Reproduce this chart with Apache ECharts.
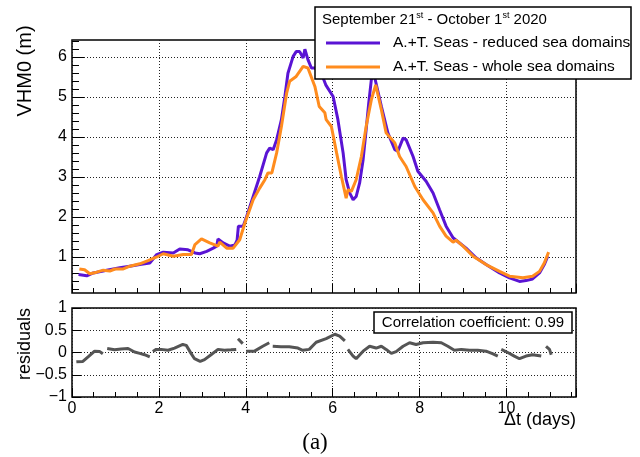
<!DOCTYPE html>
<html>
<head>
<meta charset="utf-8">
<script src="https://cdn.jsdelivr.net/npm/echarts@6/dist/echarts.min.js"></script>
<style>html,body{margin:0;padding:0;background:#fff}#c{width:640px;height:457px}</style>
</head>
<body>
<div id="c"></div>
<script>
// ---- data (days, metres) ----
const tReduced = [0.15,0.34,0.49,0.8,0.95,1.1,1.33,1.56,1.79,1.95,2.1,2.33,2.48,2.67,2.83,2.94,3.1,3.25,3.33,3.36,3.48,3.63,3.75,3.8,3.83,3.94,4.02,4.17,4.32,4.48,4.55,4.63,4.71,4.82,4.9,4.97,5.09,5.16,5.24,5.32,5.36,5.43,5.51,5.59,5.7,5.78,5.84,6.01,6.12,6.24,6.31,6.39,6.47,6.54,6.62,6.7,6.77,6.83,6.89,6.94,6.97,7.12,7.27,7.43,7.5,7.62,7.69,7.85,7.96,8.15,8.31,8.46,8.61,8.77,8.92,9.07,9.3,9.53,9.84,10.07,10.3,10.45,10.6,10.76,10.87,10.95];
const vReduced = [0.56,0.53,0.6,0.67,0.7,0.73,0.77,0.81,0.85,1.06,1.12,1.1,1.2,1.18,1.1,1.08,1.14,1.22,1.27,1.45,1.35,1.27,1.3,1.42,1.77,1.77,2.01,2.51,3.01,3.6,3.72,3.68,3.93,4.43,5.01,5.59,6.01,6.13,6.13,5.97,6.19,5.93,5.72,5.72,5.6,5.47,5.3,5.01,4.43,3.6,2.93,2.6,2.43,2.51,2.85,3.43,4.18,4.85,5.43,5.65,5.47,4.76,4.1,3.68,3.64,3.97,3.93,3.51,3.14,2.89,2.6,2.18,1.77,1.48,1.35,1.22,0.98,0.81,0.6,0.48,0.39,0.41,0.45,0.6,0.81,1.02];
const tWhole = [0.17,0.29,0.41,0.57,0.72,0.87,0.99,1.18,1.33,1.56,1.75,1.95,2.1,2.33,2.56,2.75,2.83,2.98,3.17,3.36,3.4,3.56,3.71,3.86,3.98,4.17,4.32,4.44,4.51,4.6,4.71,4.82,4.94,5.01,5.16,5.32,5.43,5.59,5.69,5.82,5.85,5.97,6.09,6.2,6.31,6.35,6.43,6.54,6.66,6.77,6.89,6.99,7.12,7.23,7.43,7.54,7.69,7.89,8.08,8.31,8.46,8.61,8.77,8.84,9.0,9.23,9.53,9.84,10.07,10.38,10.6,10.76,10.87,10.97];
const vWhole = [0.7,0.68,0.58,0.62,0.67,0.65,0.7,0.7,0.77,0.83,0.91,1.0,1.08,1.02,1.06,1.06,1.31,1.45,1.35,1.27,1.37,1.22,1.22,1.43,1.85,2.43,2.72,2.93,3.1,3.1,3.6,4.26,5.09,5.39,5.51,5.76,5.72,5.26,4.76,4.6,4.43,4.26,3.6,3.01,2.47,2.68,2.64,2.93,3.51,4.26,4.93,5.3,4.68,4.1,3.85,3.51,3.26,2.76,2.43,2.1,1.77,1.52,1.37,1.42,1.27,1.02,0.81,0.64,0.52,0.48,0.52,0.64,0.85,1.12];
// residuals; null marks a gap in the record
const tResid = [0.1,0.25,0.37,0.52,0.64,0.71,0.76,0.81,0.98,1.13,1.29,1.44,1.56,1.67,1.79,1.82,1.86,1.94,2.05,2.21,2.36,2.55,2.63,2.74,2.82,2.95,3.05,3.2,3.36,3.51,3.66,3.78,3.8,3.82,3.93,3.97,4.01,4.2,4.39,4.54,4.58,4.62,4.81,5.0,5.2,5.31,5.46,5.62,5.85,6.05,6.16,6.28,6.31,6.35,6.47,6.54,6.7,6.85,7.0,7.12,7.23,7.35,7.46,7.62,7.77,7.92,8.08,8.31,8.5,8.65,8.8,8.96,9.15,9.34,9.53,9.69,9.8,9.84,9.88,10.03,10.18,10.3,10.45,10.6,10.8,10.85,10.91,10.99,11.03];
const vResid = [-0.21,-0.2,-0.1,0.03,0.02,-0.03,null,0.09,0.06,0.08,0.09,0.01,-0.02,-0.05,-0.1,null,0.02,0.07,0.07,0.05,0.1,0.18,0.16,-0.02,-0.14,-0.2,-0.16,-0.05,0.07,0.05,0.06,0.07,null,0.31,0.2,null,0.03,0.03,0.14,0.22,null,0.14,0.13,0.13,0.1,0.05,0.07,0.23,0.31,0.41,0.37,0.26,null,0.07,-0.08,-0.14,0.03,0.14,0.1,0.14,0.07,-0.02,0.02,0.14,0.22,0.18,0.22,0.23,0.22,0.14,0.05,0.07,0.05,0.05,0.03,-0.03,-0.08,null,0.07,0.0,-0.08,-0.14,-0.08,-0.05,-0.08,null,0.14,0.07,-0.05];
const seriesNames = ['A.+T. Seas - reduced sea domains', 'A.+T. Seas - whole sea domains'];
const xTickLabels = [0, 2, 4, 6, 8, 10];
const yTopTickLabels = [1, 2, 3, 4, 5, 6];
const yResTickLabels = [-1, -0.5, 0, 0.5, 1];
const corrText = 'Correlation coefficient: 0.99';

// ---- layout ----
const FONT = "'Liberation Sans', Arial, Helvetica, sans-serif";
const L = 72, W = 504;
const xMax = 11.6;
const topT = 40, topH = 253, yMin = 0.1, yMax = 6.42;
const botT = 308, botH = 89;
const pyTop = v => topT + (yMax - v) / (yMax - yMin) * topH;
const pxPerDay = W / xMax;
const zip = (a, b) => a.map((t, i) => [t, b[i] === null ? '-' : b[i]]);
const dotted = { type: [1, 2], color: '#222', width: 1 };
const noLine = { show: false, onZero: false };

const grids = [
  { left: L, top: topT, width: W, height: topH, show: true, borderColor: '#000', borderWidth: 1.5, backgroundColor: 'transparent' },
  { left: L, top: pyTop(yTopTickLabels[yTopTickLabels.length - 1]), width: W, height: pyTop(yTopTickLabels[0]) - pyTop(yTopTickLabels[yTopTickLabels.length - 1]) },
  { left: L, top: pyTop(6.4), width: W, height: pyTop(0.2) - pyTop(6.4) },
  { left: L, top: topT, width: 11.5 * pxPerDay, height: topH },
  { left: L, top: botT, width: W, height: botH, show: true, borderColor: '#000', borderWidth: 1.5, backgroundColor: 'transparent' },
  { left: L, top: botT, width: 11.5 * pxPerDay, height: botH }
].map(g => Object.assign({ containLabel: false, outerBoundsMode: 'none' }, g));

const hidden = (extra) => Object.assign({ type: 'value', show: false, axisLine: noLine }, extra);
const xLabelFmt = v => (xTickLabels.indexOf(v) >= 0 ? String(v) : '');

const xAxis = [
  { type: 'value', gridIndex: 0, min: 0, max: xMax, interval: 2,
    axisLine: noLine, axisLabel: { show: false },
    axisTick: { show: true, inside: true, length: 9, lineStyle: { color: '#000', width: 1 } },
    splitLine: { show: true, lineStyle: dotted } },
  hidden({ gridIndex: 1, min: 0, max: xMax }),
  hidden({ gridIndex: 2, min: 0, max: xMax }),
  { type: 'value', gridIndex: 3, min: 0, max: 11.5, interval: 0.5,
    axisLine: noLine, axisLabel: { show: false }, splitLine: { show: false },
    axisTick: { show: true, inside: true, length: 5, lineStyle: { color: '#000', width: 1 } } },
  { type: 'value', gridIndex: 4, min: 0, max: xMax, interval: 2,
    axisLine: noLine,
    axisLabel: { show: true, formatter: xLabelFmt, fontSize: 16, color: '#000', fontFamily: FONT, margin: 4 },
    axisTick: { show: true, inside: true, length: 9, lineStyle: { color: '#000', width: 1 } },
    splitLine: { show: true, lineStyle: dotted } },
  { type: 'value', gridIndex: 5, min: 0, max: 11.5, interval: 0.5,
    axisLine: noLine, axisLabel: { show: false }, splitLine: { show: false },
    axisTick: { show: true, inside: true, length: 5, lineStyle: { color: '#000', width: 1 } } }
];

const yAxis = [
  hidden({ gridIndex: 0, min: yMin, max: yMax }),
  { type: 'value', gridIndex: 1, min: yTopTickLabels[0], max: yTopTickLabels[yTopTickLabels.length - 1], interval: 1,
    axisLine: noLine,
    axisLabel: { show: true, fontSize: 16, color: '#000', fontFamily: FONT, margin: 5 },
    axisTick: { show: true, inside: true, length: 12, lineStyle: { color: '#000', width: 1 } },
    splitLine: { show: true, lineStyle: dotted } },
  { type: 'value', gridIndex: 2, min: 0.2, max: 6.4, interval: 0.2,
    axisLine: noLine, axisLabel: { show: false }, splitLine: { show: false },
    axisTick: { show: true, inside: true, length: 7, lineStyle: { color: '#000', width: 1 } } },
  hidden({ gridIndex: 3, min: 0, max: 1 }),
  { type: 'value', gridIndex: 4, min: yResTickLabels[0], max: yResTickLabels[yResTickLabels.length - 1], interval: 0.5,
    axisLine: noLine,
    axisLabel: { show: true, fontSize: 16, color: '#000', fontFamily: FONT, margin: 5,
      formatter: v => String(v).replace('-', '\u2212') },
    axisTick: { show: true, inside: true, length: 9, lineStyle: { color: '#000', width: 1 } },
    splitLine: { show: true, lineStyle: dotted } },
  hidden({ gridIndex: 5, min: 0, max: 1 })
];

const txt = (x, y, text, size, extra) => ({
  type: 'text', x: x, y: y, z: 30, silent: true,
  style: Object.assign({ text: text, fontSize: size, fontFamily: FONT, fill: '#000',
    textAlign: 'left', textVerticalAlign: 'middle', verticalAlign: 'middle' }, extra || {})
});

const option = {
  animation: false,
  backgroundColor: '#fff',
  textStyle: { fontFamily: FONT },
  grid: grids,
  xAxis: xAxis,
  yAxis: yAxis,
  legend: {
    data: seriesNames, orient: 'vertical', left: 326, top: 35, padding: 0,
    itemWidth: 54, itemHeight: 3, itemGap: 8, icon: 'rect', z: 40, selectedMode: false,
    textStyle: { fontSize: 15.5, color: '#000', fontFamily: FONT, lineHeight: 16, padding: [0, 0, 0, 8] }
  },
  graphic: [
    { type: 'rect', z: 20, silent: true, shape: { x: 315, y: 7, width: 316, height: 72 },
      style: { fill: '#fff', stroke: '#000', lineWidth: 1.5 } },
    { type: 'text', x: 322, y: 20, z: 30, silent: true,
      style: { text: '{n|September 21}{s|st}{n| - October 1}{s|st}{n| 2020}', fill: '#000',
        textAlign: 'left', textVerticalAlign: 'middle', verticalAlign: 'middle',
        rich: { n: { fontSize: 15, fontFamily: FONT, lineHeight: 18, fill: '#000' },
                s: { fontSize: 9, fontFamily: FONT, lineHeight: 10, verticalAlign: 'top', fill: '#000' } } } },
    { type: 'rect', z: 20, silent: true, shape: { x: 374, y: 312, width: 198, height: 21 },
      style: { fill: '#fff', stroke: '#000', lineWidth: 1.5 } },
    txt(473, 322.5, corrText, 15, { textAlign: 'center' }),
    Object.assign(txt(25, 71, 'VHM0 (m)', 20, { textAlign: 'center' }), { rotation: Math.PI / 2 }),
    Object.assign(txt(25, 344, 'residuals', 18, { textAlign: 'center' }), { rotation: Math.PI / 2 }),
    txt(576, 420, '\u0394t (days)', 18, { textAlign: 'right' }),
    txt(315, 443, '(a)', 23, { textAlign: 'center', fontFamily: "'Liberation Serif', 'DejaVu Serif', serif" })
  ],
  series: [
    { name: seriesNames[0], type: 'line', xAxisIndex: 0, yAxisIndex: 0, data: zip(tReduced, vReduced),
      symbol: 'none', z: 3, color: '#5a14d4', lineStyle: { width: 3, color: '#5a14d4' } },
    { name: seriesNames[1], type: 'line', xAxisIndex: 0, yAxisIndex: 0, data: zip(tWhole, vWhole),
      symbol: 'none', z: 4, color: '#ff8c1e', lineStyle: { width: 3, color: '#ff8c1e' } },
    { name: 'residuals', type: 'line', xAxisIndex: 4, yAxisIndex: 4, data: zip(tResid, vResid),
      symbol: 'none', showSymbol: false, connectNulls: false, z: 3, color: '#555', lineStyle: { width: 3, color: '#555' } }
  ]
};

const chart = echarts.init(document.getElementById('c'), null, { renderer: 'canvas', width: 640, height: 457 });
chart.setOption(option);
</script>
</body>
</html>
